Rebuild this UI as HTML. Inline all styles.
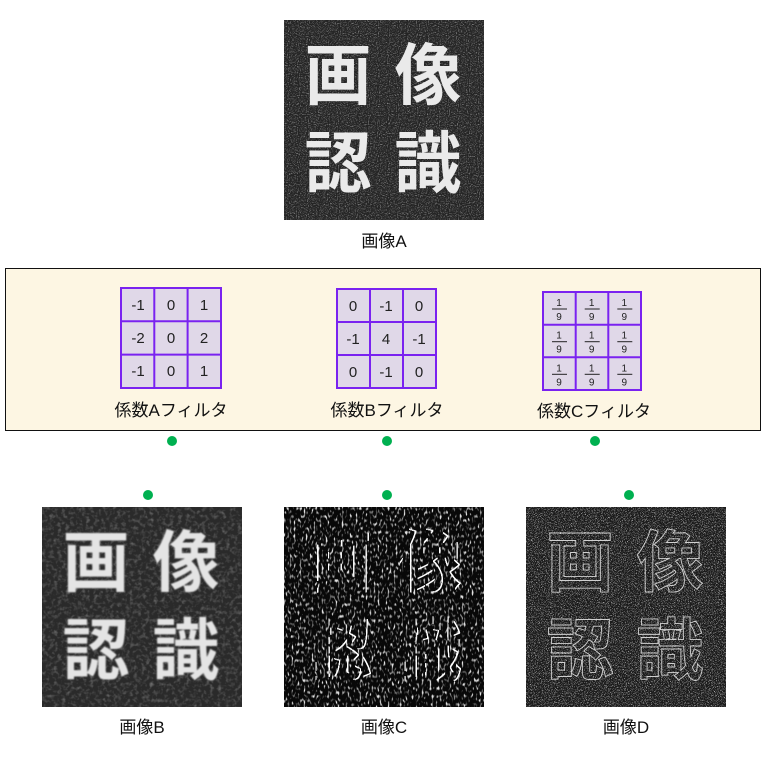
<!DOCTYPE html>
<html><head><meta charset="utf-8"><style>
body{margin:0;background:#fff;width:768px;height:761px;overflow:hidden}
svg{display:block}
</style></head><body>
<svg width="768" height="761" xmlns="http://www.w3.org/2000/svg" font-family="'Liberation Sans','Noto Sans CJK JP',sans-serif">
<defs>
<filter id="n1" x="0" y="0" width="100%" height="100%">
<feTurbulence type="fractalNoise" baseFrequency="0.9" numOctaves="1" seed="3"/>
<feColorMatrix type="matrix" values="0 0 0 0 0.4  0 0 0 0 0.4  0 0 0 0 0.4  1.6 1.6 0 0 -1.55"/>
</filter>
<filter id="n2" x="0" y="0" width="100%" height="100%">
<feTurbulence type="fractalNoise" baseFrequency="0.25" numOctaves="2" seed="5"/>
<feColorMatrix type="matrix" values="0 0 0 0 0.3  0 0 0 0 0.3  0 0 0 0 0.3  0.8 0.8 0 0 -0.75"/>
</filter>
<filter id="n3" x="0" y="0" width="100%" height="100%">
<feTurbulence type="fractalNoise" baseFrequency="0.5 0.25" numOctaves="1" seed="7"/>
<feColorMatrix type="matrix" values="0 0 0 0 0.75  0 0 0 0 0.75  0 0 0 0 0.75  3 3 0 0 -3.1"/>
</filter>
<filter id="n4" x="0" y="0" width="100%" height="100%">
<feTurbulence type="fractalNoise" baseFrequency="1.3" numOctaves="1" seed="9"/>
<feColorMatrix type="matrix" values="0 0 0 0 0.7  0 0 0 0 0.7  0 0 0 0 0.7  3 3 0 0 -3.1"/>
</filter>
<filter id="bl"><feGaussianBlur stdDeviation="0.7"/></filter>
<filter id="sob" x="0" y="0" width="100%" height="100%">
<feConvolveMatrix order="3" kernelMatrix="-1 0 1 -2 0 2 -1 0 1" divisor="1" preserveAlpha="true"/>
</filter>
<g id="txt" font-family="'Noto Sans CJK JP',sans-serif" font-weight="bold" font-size="67" text-anchor="middle">
<text x="54" y="79">画</text><text x="144" y="79">像</text>
<text x="54" y="167">認</text><text x="144" y="167">識</text>
</g>
</defs>

<g transform="translate(284,20)">
<rect width="200" height="200" fill="#242424"/>
<rect width="200" height="200" fill="#000" filter="url(#n1)"/>
<use href="#txt" fill="#eaeaea"/>
</g>
<text x="384" y="247" font-size="17" text-anchor="middle" fill="#111">画像A</text>

<rect x="5.5" y="268.5" width="755" height="162" fill="#fdf6e3" stroke="#111" stroke-width="1"/>

<g transform="translate(121,288)" font-size="15" fill="#222" text-anchor="middle">
<rect width="100" height="100" fill="#e0d8e8" stroke="#7a22f0" stroke-width="2"/>
<path d="M33.3 0V100M66.6 0V100M0 33.3H100M0 66.6H100" stroke="#7a22f0" stroke-width="2"/>
<text x="17" y="22">-1</text><text x="50" y="22">0</text><text x="83" y="22">1</text>
<text x="17" y="55">-2</text><text x="50" y="55">0</text><text x="83" y="55">2</text>
<text x="17" y="88">-1</text><text x="50" y="88">0</text><text x="83" y="88">1</text>
</g>
<text x="171" y="416" font-size="17" text-anchor="middle" fill="#111">係数Aフィルタ</text>

<g transform="translate(337,289)" font-size="15" fill="#222" text-anchor="middle">
<rect width="99" height="99" fill="#e0d8e8" stroke="#7a22f0" stroke-width="2"/>
<path d="M33 0V99M66 0V99M0 33H99M0 66H99" stroke="#7a22f0" stroke-width="2"/>
<text x="16" y="22">0</text><text x="49" y="22">-1</text><text x="82" y="22">0</text>
<text x="16" y="55">-1</text><text x="49" y="55">4</text><text x="82" y="55">-1</text>
<text x="16" y="88">0</text><text x="49" y="88">-1</text><text x="82" y="88">0</text>
</g>
<text x="387" y="416" font-size="17" text-anchor="middle" fill="#111">係数Bフィルタ</text>

<g transform="translate(543,292)" font-size="10" fill="#222" text-anchor="middle">
<rect width="98" height="98" fill="#e0d8e8" stroke="#7a22f0" stroke-width="2"/>
<path d="M32.7 0V98M65.3 0V98M0 32.7H98M0 65.3H98" stroke="#7a22f0" stroke-width="2"/>
<g id="fr"><text x="16" y="14">1</text><line x1="9" y1="17" x2="24" y2="17" stroke="#222" stroke-width="1"/><text x="16" y="28">9</text></g>
<use href="#fr" x="32.7"/><use href="#fr" x="65.3"/>
<use href="#fr" y="32.7"/><use href="#fr" x="32.7" y="32.7"/><use href="#fr" x="65.3" y="32.7"/>
<use href="#fr" y="65.3"/><use href="#fr" x="32.7" y="65.3"/><use href="#fr" x="65.3" y="65.3"/>
</g>
<text x="594" y="417" font-size="17" text-anchor="middle" fill="#111">係数Cフィルタ</text>

<g fill="#00b050">
<circle cx="172" cy="441" r="5"/><circle cx="387" cy="441" r="5"/><circle cx="595" cy="441" r="5"/>
<circle cx="148" cy="495" r="5"/><circle cx="387" cy="495" r="5"/><circle cx="629" cy="495" r="5"/>
</g>

<g transform="translate(42,507)">
<rect width="200" height="200" fill="#2a2a2a"/>
<rect width="200" height="200" fill="#000" filter="url(#n2)"/>
<use href="#txt" fill="#e4e4e4" filter="url(#bl)"/>
</g>
<text x="142" y="733" font-size="17" text-anchor="middle" fill="#111">画像B</text>

<g transform="translate(284,507)">
<rect width="200" height="200" fill="#080808"/>
<rect width="200" height="200" fill="#000" filter="url(#n3)"/>
<g filter="url(#sob)" style="mix-blend-mode:screen">
<rect width="200" height="200" fill="#000"/>
<use href="#txt" fill="#fff"/>
</g>
</g>
<text x="384" y="733" font-size="17" text-anchor="middle" fill="#111">画像C</text>

<g transform="translate(526,507)">
<rect width="200" height="200" fill="#1a1a1a"/>
<rect width="200" height="200" fill="#000" filter="url(#n4)"/>
<use href="#txt" fill="none" stroke="#d0d0d0" stroke-width="0.9"/>
</g>
<text x="626" y="733" font-size="17" text-anchor="middle" fill="#111">画像D</text>
</svg>
</body></html>
